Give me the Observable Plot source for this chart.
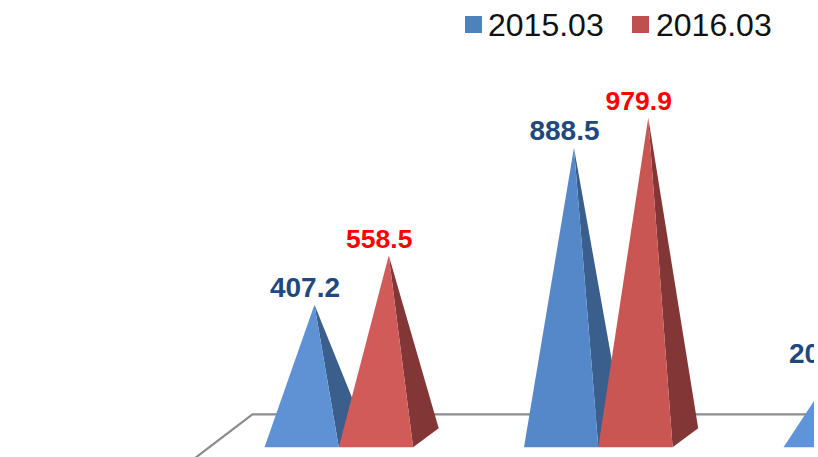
<!DOCTYPE html>
<html>
<head>
<meta charset="utf-8">
<script src="https://cdn.jsdelivr.net/npm/d3@7"></script>
<script src="https://cdn.jsdelivr.net/npm/@observablehq/plot@0.6"></script>
<style>
  html, body { margin: 0; padding: 0; background: #fff; }
  #page { width: 818px; height: 457px; overflow: hidden; position: relative; font-family: "Liberation Sans", Arial, sans-serif; }
  #legend { height: 45px; position: relative; color: #111; font-size: 32px; line-height: 32px; }
  #legend span { position: absolute; top: 9px; }
  #legend i { position: absolute; top: 16px; width: 17px; height: 17px; }
  #chart svg { overflow: hidden; display: block; }
</style>
</head>
<body>
<div id="page">
  <div id="legend"></div>
  <div id="chart"></div>
</div>
<script>
const groups = [0, 1, 2];
const series = ["2015.03", "2016.03"];
const values2015 = [407.2, 888.5, 203.1];
const values2016 = [558.5, 979.9];

const legendColors = ["#4f81bd", "#c0504d"];
const frontColors = [["#5e92d5", "#5588c9", "#5f94d8"], ["#d05b58", "#c95653"]];
const sideColors = ["#3a5f8c", "#823736"];
const labelColors = ["#1f497d", "#ff0000"];
const labelSizes = [28, 26.5];
const labelOffsets = [-17, -16];

// Pyramid shape, in the units of the x (group) and y (value) scales
const barW = 0.2863;
const depthX = 0.0987;
const depthY = 29.1;

const legend = document.getElementById("legend");
[[465, 488], [632, 656]].forEach(([swatch, label], i) => {
  const s = document.createElement("i");
  s.style.left = swatch + "px";
  s.style.background = legendColors[i];
  const t = document.createElement("span");
  t.style.left = label + "px";
  t.textContent = series[i];
  legend.append(s, t);
});

const floor = [
  {x: -0.6, y: -90},
  {x: -0.3329, y: 72},
  {x: 2, y: 72}
];

const marks = [
  Plot.line(floor, {x: "x", y: "y", stroke: "#8c8c8c", strokeWidth: 2.2})
];
const labels = [];

groups.forEach((g) => {
  [values2015, values2016].forEach((vals, s) => {
    const v = vals[g];
    if (v === undefined) return;
    const cx = g + (s - 0.5) * barW;
    const apex = {x: cx + depthX / 2, y: v};
    const fl = {x: cx - barW / 2, y: -depthY};
    const fr = {x: cx + barW / 2, y: -depthY};
    const br = {x: cx + barW / 2 + depthX, y: depthY};
    marks.push(
      Plot.line([apex, fr, br], {x: "x", y: "y", fill: sideColors[s], stroke: null}),
      Plot.line([apex, fl, fr], {x: "x", y: "y", fill: frontColors[s][g], stroke: null})
    );
    labels.push({x: apex.x, y: v, text: v.toFixed(1), s});
  });
});

[0, 1].forEach((s) => {
  marks.push(Plot.text(labels.filter((d) => d.s === s), {
    x: "x", y: "y", text: "text",
    dx: -9.5, dy: labelOffsets[s],
    fill: labelColors[s],
    fontSize: labelSizes[s], fontWeight: "bold",
    fontFamily: "Liberation Sans, Arial, sans-serif"
  }));
});

const chart = Plot.plot({
  width: 814,
  height: 412,
  margin: 0,
  x: {axis: null, domain: [0, 1], range: [338.3, 597.8]},
  y: {axis: null, domain: [0, 1000], range: [392.3, 65.8]},
  marks
});
chart.style.overflow = "hidden";
chart.style.maxWidth = "none";
document.getElementById("chart").append(chart);
</script>
</body>
</html>
